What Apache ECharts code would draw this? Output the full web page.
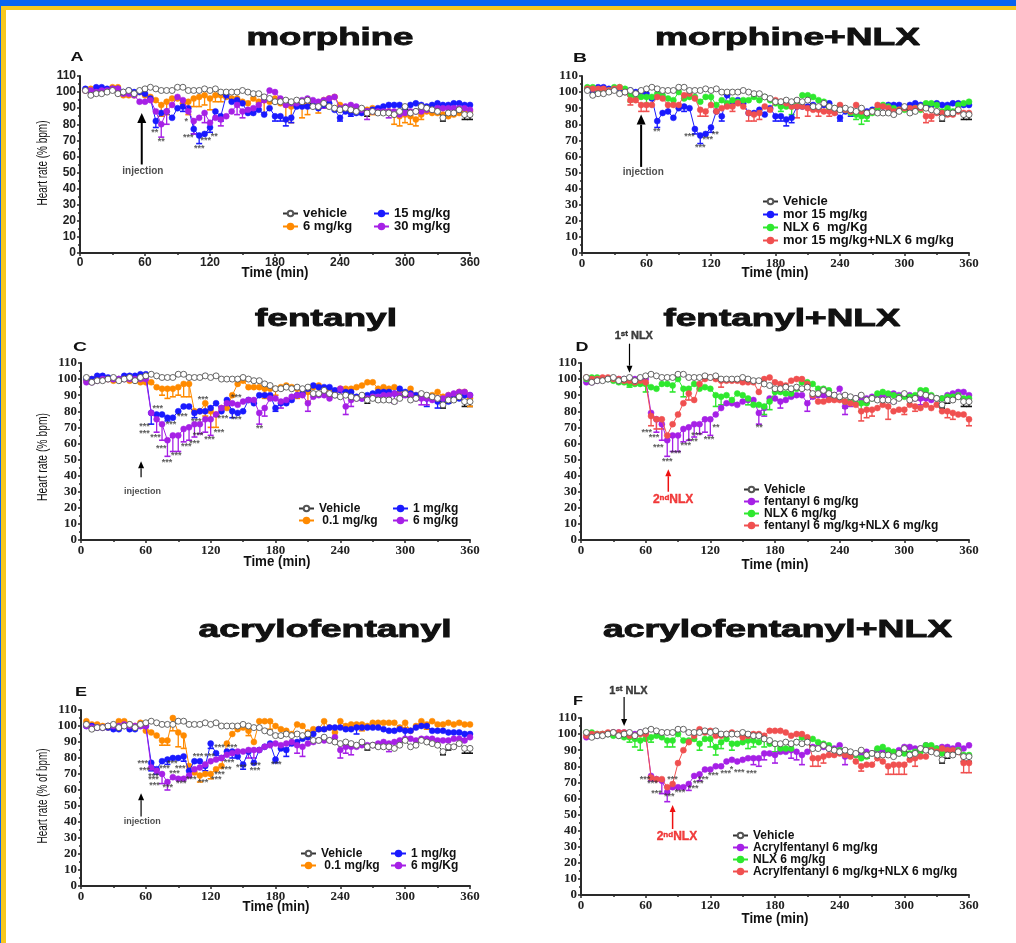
<!DOCTYPE html>
<html><head><meta charset="utf-8">
<script src="https://cdn.jsdelivr.net/npm/echarts@6/dist/echarts.min.js"></script>
<style>
html,body{margin:0;padding:0;background:#fff;width:1016px;height:943px;overflow:hidden;}
.c{position:absolute;left:0;top:0;width:1016px;height:943px;}
.bar{position:absolute;}
</style></head>
<body>
<div class="bar" style="left:0;top:0;width:1016px;height:6px;background:#0a64f0"></div>
<div class="bar" style="left:0;top:6px;width:1016px;height:4px;background:#f7c81e"></div>
<div class="bar" style="left:0;top:6px;width:1px;height:937px;background:#0a64f0"></div>
<div class="bar" style="left:1px;top:6px;width:5px;height:937px;background:#f7c81e"></div>
<div id="pA" class="c"></div><div id="pB" class="c"></div><div id="pC" class="c"></div>
<div id="pD" class="c"></div><div id="pE" class="c"></div><div id="pF" class="c"></div>
<script>
// time points (min)
const T = [5,10,15,20,25,30,35,40,45,50,55,60,65,70,75,80,85,90,95,100,105,110,115,120,125,130,135,140,145,150,155,160,165,170,175,180,185,190,195,200,205,210,215,220,225,230,235,240,245,250,255,260,265,270,275,280,285,290,295,300,305,310,315,320,325,330,335,340,345,350,355,360];

const vehicle = [101,98,99,99,100,101,99,100,101,99,101,102, 103,102,101,101,101,103,103,101,101,101,102,101, 102,100,100,100,100,101,100,99,99,97,96,94, 94,95,94,95,94,95,91,91,93,91,90,89, 90,89,88,90,87,88,87,87,87,86,88,91, 87,88,91,90,89,88,84,87,87,89,86,86];
// A morphine
const morph6 = [101,102,101,102,101,103,103,98,98,98,100,98, 97,95,92,94,96,96,93,94,96,97,98,96, 98,98,97,96,96,94,93,96,94,95,94,96, 93,92,91,92,92,93,92,92,95,96,97,92, 90,91,89,88,89,90,88,88,88,86,85,86, 85,83,86,88,87,87,86,85,86,87,88,88];
const morph15 = [102,100,103,103,102,102,102,100,101,100,100,99, 96,82,87,88,84,90,91,90,77,73,74,78, 88,85,98,94,95,93,87,87,89,86,90,85, 85,83,84,91,91,91,92,90,92,93,89,84, 88,87,87,87,88,89,90,91,92,92,92,90, 92,93,92,91,92,93,92,92,93,93,92,92];
const morph30 = [101,101,100,101,101,102,102,99,99,98,94,94, 95,88,80,88,92,97,95,88,82,84,87,81, 84,83,85,88,92,88,89,90,92,95,101,100, 96,92,93,93,95,96,95,94,95,96,97,90, 91,92,91,89,88,88,88,88,88,88,86,87, 88,88,88,89,89,90,90,90,90,90,90,89];
// B morphine+NLX
const nlxB = [103,103,101,101,101,103,103,102,98,97,97,97, 97,99,98,96,95,100,96,97,97,94,97,97, 92,95,93,95,94,95,95,97,95,97,95,93, 91,91,91,94,98,98,97,95,94,90,90,90, 89,87,86,85,85,87,90,92,91,90,89,89, 89,90,89,93,93,92,88,90,88,92,93,94];
const morNlx = [102,102,102,102,101,102,103,100,95,95,92,92, 92,97,96,92,92,92,98,99,96,89,88,92, 88,90,91,91,93,91,87,86,87,91,89,95, 94,93,91,91,91,90,89,89,88,88,87,92, 89,88,92,88,87,88,92,91,90,88,89,90, 90,90,90,85,85,87,87,86,86,88,87,87];
// C fentanyl
const fent01 = [99,100,101,101,100,99,100,101,99,99,98,98, 98,95,94,94,94,95,97,97,80,80,85,80, 78,82,82,90,97,99,95,95,95,94,94,94, 95,96,95,94,93,92,95,96,94,93,91,94, 94,94,95,96,98,98,94,95,94,95,92,91, 94,90,90,89,90,92,89,90,90,92,92,88];
const fent1 = [100,100,102,102,101,100,100,102,102,102,103,103, 79,78,78,76,76,80,83,83,79,80,80,82, 85,80,87,80,79,80,87,85,90,90,90,82, 85,85,87,90,91,94,96,95,95,95,93,93, 92,92,89,88,90,91,92,92,92,91,94,92, 91,90,90,88,88,86,87,86,88,88,90,90];
const fent6 = [98,98,99,100,100,100,100,100,100,100,100,100, 79,75,72,62,65,65,69,70,72,72,75,75, 78,82,85,85,84,86,87,87,79,82,88,88, 86,87,89,90,90,85,89,90,90,88,90,94, 83,87,88,88,88,89,89,90,90,91,90,90, 90,88,88,88,87,88,88,90,91,92,92,90];
// D fentanyl+NLX
const nlxD = [100,101,101,100,100,99,98,98,97,97,97,97, 95,94,97,97,96,100,94,94,97,94,95,94, 90,89,90,87,91,90,88,84,84,83,86,92, 92,91,91,94,98,98,97,94,94,93,88,88, 86,86,85,85,85,88,91,92,91,90,89,89, 89,90,93,93,90,88,88,89,89,90,88,88];
const fentNlx = [101,100,100,101,101,100,100,99,99,98,99,98, 77,75,75,65,72,78,85,91,87,97,100,101, 100,99,99,99,99,98,98,98,92,100,101,98, 97,96,99,100,100,97,90,86,86,87,87,87, 86,85,84,80,81,81,82,84,83,80,81,81, 84,83,82,84,82,84,80,80,79,78,78,75];
// E acrylofentanyl
const acr01 = [103,101,101,100,99,100,103,103,101,100,102,97, 96,94,91,91,105,96,94,75,71,69,70,70, 73,75,89,95,98,99,97,90,103,103,103,100, 98,97,95,101,100,96,98,98,103,99,96,103, 100,101,101,101,100,102,102,102,102,102,99,102, 97,100,103,101,103,101,101,102,101,102,101,101];
const acr1 = [100,100,99,99,99,98,98,100,98,98,100,100, 77,73,78,79,80,80,81,72,78,78,75,89, 83,80,84,84,81,76,84,77,85,87,89,79, 86,85,89,90,92,93,95,98,98,99,99,99, 98,98,99,99,99,99,99,98,97,97,98,97, 97,99,100,100,97,97,97,96,96,96,95,95];
const acr6E = [100,99,99,99,100,100,100,101,100,100,100,100, 74,72,70,65,68,67,67,69,73,74,76,78, 79,80,82,83,84,84,85,85,85,87,88,89, 88,89,90,88,87,89,90,91,91,91,93,85, 87,87,87,88,88,88,89,90,89,90,91,92, 92,91,92,92,92,91,91,91,92,92,91,93];
// F acrylofentanyl+NLX
const acr6F = [98,99,99,100,100,101,101,101,100,100,101,100, 74,72,71,64,67,67,67,69,74,75,78,78, 80,80,83,84,83,84,85,85,85,88,88,87, 89,89,90,89,87,89,92,92,92,91,91,93, 86,88,87,87,89,88,90,90,89,87,90,92, 92,91,91,93,92,91,92,92,91,93,91,93];
const nlxF = [101,101,100,100,100,99,99,98,98,97,96,97, 98,99,98,96,96,100,96,96,97,94,97,97, 92,95,97,94,94,95,96,96,95,97,94,94, 91,91,91,95,98,97,97,95,94,93,90,90, 89,88,87,85,86,88,91,92,90,89,88,88, 88,89,89,93,93,91,88,90,89,90,87,87];
const acrNlx = [99,100,100,100,101,101,101,101,99,99,100,100, 73,72,72,67,69,82,90,95,99,103,101,102, 99,99,100,101,100,98,99,100,100,99,102,102, 102,101,99,100,100,98,85,85,86,87,87,88, 87,86,83,80,81,81,85,83,80,81,81,81, 84,85,86,86,90,89,91,90,90,89,82,82];

// error bars (SEM, drawn downward): [time, sem]
const vehErr = [[260,2],[265,2],[270,1],[335,2],[340,2],[355,3],[360,3]];
const morph6Err = [[75,7],[80,8],[100,8],[105,5],[110,6],[115,6],[120,7],[125,4],[130,4],[170,8],[190,10],[195,10],[205,8],[210,7],[220,5],[230,4],[270,4],[290,6],[295,6],[300,5],[305,5],[310,4],[315,3]];
const morph15Err = [[70,4],[95,3],[105,3],[110,5],[120,3],[130,3],[180,3],[185,3],[190,4],[195,3],[240,2],[250,2]];
const morph30Err = [[75,8],[80,8],[105,8],[115,6],[130,4],[145,6],[150,4],[215,3],[225,5],[265,5],[285,4]];
const nlxBErr = [[45,4],[60,4],[120,5],[125,4],[185,3],[195,5],[255,3],[260,5],[265,3]];
const morNlxErr = [[45,3],[55,4],[60,4],[80,4],[90,2],[110,4],[115,3],[140,3],[155,5],[160,4],[165,4],[200,7],[210,5],[220,4],[230,3],[320,4],[325,3]];
const fent01Err = [[75,4],[80,6],[85,5],[90,5],[95,8],[100,8],[115,8],[120,10],[125,8],[170,6],[180,4],[200,6],[210,6],[220,5],[230,4],[360,5]];
const fent1Err = [[65,7],[80,2],[105,3],[135,4],[140,4],[180,2],[300,3],[320,5],[330,4]];
const fent6Err = [[70,8],[75,10],[80,10],[85,10],[90,10],[95,8],[100,8],[105,8],[110,6],[115,8],[120,10],[165,7],[170,5],[185,4],[210,5],[245,5],[250,4],[290,6],[315,4],[320,4]];
const nlxDErr = [[45,2],[60,5],[85,4],[95,5],[125,7],[130,5],[155,4],[170,5],[175,5],[180,5],[230,3],[245,4],[260,5]];
const fentNlxErr = [[65,6],[70,6],[75,6],[100,4],[130,4],[260,6],[265,5],[270,4],[285,8],[300,3],[310,3],[340,4],[345,4],[360,4]];
const acr01Err = [[75,3],[80,3],[85,8],[90,9],[95,8],[110,4],[120,3],[155,3],[175,5],[225,6],[240,4],[260,4],[300,3],[320,3]];
const acr1Err = [[65,5],[70,3],[80,3],[95,3],[115,3],[120,3],[140,4],[150,3],[180,2],[190,4],[255,4],[300,5],[355,3]];
const acr6EErr = [[75,6],[80,5],[155,5],[160,5],[200,5],[205,6],[240,5],[245,4],[250,5],[285,5]];
const acr6FErr = [[65,3],[75,8],[80,6],[100,4],[110,4],[160,4],[165,5],[170,4],[180,5],[195,5],[200,5],[205,6],[245,5]];
const nlxFErr = [[45,3],[50,5],[55,6],[65,3],[80,4],[85,4],[110,4],[120,5],[125,5],[130,4],[140,4],[155,5],[160,4],[170,5],[180,5]];
const acrNlxErr = [[215,5],[220,5],[225,4],[260,3],[285,5],[290,6],[295,6],[300,6],[310,5],[355,6],[360,6]];

// significance marks: [time, y, text]
const starsA = [[69,75,'**'],[75,69,'**'],[98,81.5,'*'],[100,72,'***'],[110,65,'***'],[116,70,'***'],[124,72.6,'**']];
const starsB = [[69.5,75.5,'**'],[100,72.5,'***'],[110,65.3,'***'],[117,70.5,'***'],[124,73.6,'**']];
const starsC = [[71,82,'***'],[58.7,70.6,'***'],[58.7,66.4,'***'],[68.9,63.7,'***'],[74.2,56.9,'***'],[83.4,71.6,'***'],[88.1,52.7,'***'],[79.7,48.4,'***'],[93.6,76.8,'***'],[97.3,58.1,'***'],[105.1,60.2,'***'],[106.6,73.5,'***'],[108.2,64.8,'***'],[112.8,87.6,'***'],[119,62.3,'***'],[127.6,67,'***'],[131.3,75.8,'***'],[143.7,88.8,'***'],[143.7,74.7,'***'],[165.3,69.5,'**']];
const starsD = [[60.9,66.8,'***'],[67.7,63.7,'***'],[71.7,57.5,'***'],[80,48.8,'***'],[88,53.5,'***'],[97.3,58.7,'***'],[103.5,61.2,'***'],[107.2,64.8,'***'],[118.7,62.7,'***'],[125.2,70.2,'**'],[165.3,70.2,'**']];
const starsE = [[57.2,76.3,'***'],[58.7,71.9,'***'],[67,68.3,'***'],[67,66.3,'***'],[68,62.7,'***'],[77.3,73.5,'***'],[80.3,61.5,'***'],[84.4,76.3,'***'],[86.5,70.4,'***'],[91.8,73.5,'***'],[92.7,64,'***'],[102,66.7,'***'],[108.2,80.8,'***'],[119,80.8,'***'],[112.8,64.6,'***'],[125.2,66.3,'***'],[128.2,69.8,'***'],[134.4,72.9,'***'],[128.2,86.7,'***'],[139.7,86.7,'***'],[136.9,77.3,'***'],[148.3,74,'***'],[161,71.9,'***'],[161.6,75.2,'***'],[180.8,76,'***']];
const starsF = [[59.3,71.6,'***'],[66.4,69.5,'***'],[85,71.6,'***'],[70.1,62.9,'***'],[81.9,61.2,'***'],[91.8,63.7,'***'],[104.1,66.4,'***'],[108.8,69.5,'***'],[113.4,72,'***'],[122.7,74.1,'***'],[134.4,75.3,'***'],[139.7,77.8,'*'],[146.8,76.2,'***'],[158.2,75.3,'***']];

const C_OR = '#ff8a00', C_BL = '#1a1aff', C_PU = '#a620e6', C_GR = '#2ee82e', C_RD = '#f05050';

const measureCtx = document.createElement('canvas').getContext('2d');
function scaleFor(text, font, target){ measureCtx.font = font; return target / measureCtx.measureText(text).width; }

function errRender(color){
  return function(params, api){
    const t = api.value(0), v = api.value(1), lo = api.value(2);
    const a = api.coord([t, v]), b = api.coord([t, lo]);
    return {type:'group', children:[
      {type:'line', shape:{x1:a[0],y1:a[1],x2:b[0],y2:b[1]}, style:{stroke:color,lineWidth:1.3}},
      {type:'line', shape:{x1:b[0]-3,y1:b[1],x2:b[0]+3,y2:b[1]}, style:{stroke:color,lineWidth:1.6}}
    ]};
  };
}

function txt(text, x, y, font, target, extra){
  const o = {type:'text', x:x, y:y, silent:true,
    scaleX: target ? scaleFor(text, font, target) : 1,
    style:Object.assign({text:text, font:font, fill:'#111', align:'center', verticalAlign:'middle', textAlign:'center', textVerticalAlign:'middle'}, (extra && extra.style)||{})};
  if (extra && extra.rotation) o.rotation = extra.rotation;
  return o;
}

function arrowGraphic(chart, a){
  const p0 = chart.convertToPixel({gridIndex:0}, [a[0], a[1]]);
  const p1 = chart.convertToPixel({gridIndex:0}, [a[2], a[3]]);
  const dx = p1[0]-p0[0], dy = p1[1]-p0[1], L = Math.hypot(dx, dy), ux = dx/L, uy = dy/L;
  const hw = a[5]/2, hl = a[6];
  const bx = p1[0]-ux*hl, by = p1[1]-uy*hl;
  return [
    {type:'line', silent:true, z:50, shape:{x1:p0[0], y1:p0[1], x2:bx, y2:by}, style:{stroke:a[4], lineWidth:a[7]}},
    {type:'polygon', silent:true, z:50, shape:{points:[[p1[0],p1[1]],[bx-uy*hw, by+ux*hw],[bx+uy*hw, by-ux*hw]]}, style:{fill:a[4]}}
  ];
}

function build(p){
  const chart = echarts.init(document.getElementById(p.id), null, {width:1016, height:943});
  const tickFont = p.serif ? 'Liberation Serif' : 'Liberation Sans';
  const tickSize = p.serif ? 13 : 12;
  const series = [];
  p.lines.forEach((l, idx) => {
    const veh = !!l.vehicle;
    const c = veh ? '#333' : l.color;
    if (l.err) {
      series.push({type:'custom', name:'_err'+idx, silent:true, z:1, clip:false, renderItem:errRender(veh ? '#111' : c),
        data:l.err.map(([t,e]) => { const v = l.data[T.indexOf(t)]; return [t, v, v - e]; })});
    }
    series.push({type:'line', name:l.name, data:T.map((t,i)=>[t, l.data[i]]), symbol:'circle', symbolSize:6,
      z: veh ? 6 : 2 + idx * 0.1, silent:true,
      itemStyle: veh ? {color:'#fff', borderColor:'#555', borderWidth:0.9} : {color:c, borderColor:c, borderWidth:0.5},
      lineStyle:{color:c, width:1}, emphasis:{disabled:true}});
  });
  series.push({type:'scatter', name:'_stars', data:p.stars, symbolSize:1, z:7, silent:true, clip:false,
    itemStyle:{color:'rgba(0,0,0,0)'},
    label:{show:true, position:'inside', formatter:q=>q.data[2], fontSize:9, fontWeight:'bold', color:'#333', fontFamily:'Liberation Sans'}});
  series.push({type:'scatter', name:'_notes', symbolSize:1, z:8, silent:true, clip:false,
    itemStyle:{color:'rgba(0,0,0,0)'},
    data:p.notes.map(n => ({value:[n[0], n[1]], label:{show:true, position:'inside', formatter:n[2], color:n[3], fontFamily:'Liberation Sans', fontWeight:'bold', fontSize:n[4],
      rich:{a:{fontSize:n[4], fontWeight:900, color:n[3], fontFamily:'Liberation Sans', textBorderColor:n[3], textBorderWidth:n[5]||0},
            b:{fontSize:Math.round(n[4]*0.7), fontWeight:900, color:n[3], verticalAlign:'top', fontFamily:'Liberation Sans', textBorderColor:n[3], textBorderWidth:n[5]||0}}}}))});

  const axCommon = {
    axisLine:{show:true, onZero:false, lineStyle:{color:'#2a2a2a', width:2}},
    axisTick:{show:true, length:3, lineStyle:{color:'#2a2a2a', width:1.5}},
    minorTick:{show:true, splitNumber:2, length:2, lineStyle:{color:'#2a2a2a', width:1.5}},
    splitLine:{show:false}, minorSplitLine:{show:false},
    axisLabel:{fontFamily:tickFont, fontWeight:'bold', fontSize:tickSize, color:'#222', margin:4}
  };
  const g = p.grid;
  chart.setOption({
    animation:false,
    grid:{left:g[0], top:g[1], width:g[2], height:g[3], containLabel:false, outerBoundsMode:'none'},
    xAxis:Object.assign({type:'value', min:0, max:360, interval:60}, axCommon),
    yAxis:Object.assign({type:'value', min:0, max:110, interval:10}, axCommon),
    legend:p.legends.map(L => ({orient:'vertical', left:L.left, top:L.top, data:L.data, itemWidth:15, itemHeight:7, itemGap:0, padding:0,
      selectedMode:false, textStyle:{fontFamily:'Liberation Sans', fontWeight:'bold', fontSize:L.fs, color:'#111', lineHeight:L.lh}})),
    series:series
  });
  const graphic = [
    txt(p.title[0], p.title[1], p.title[2], 'bold 24px "Liberation Sans"', p.title[3], {style:{stroke:'#111', lineWidth:0.9}}),
    txt(p.letter[0], p.letter[1], p.letter[2], 'bold 13px "Liberation Sans"', p.letter[3]),
    txt('Time (min)', p.xName[0], p.xName[1], 'bold 14px "Liberation Sans"', 67)
  ];
  if (p.yName) graphic.push(txt(p.yName[0], p.yName[1], p.yName[2], '14px "Liberation Sans"', p.yName[3], {rotation:Math.PI/2}));
  p.arrows.forEach(a => arrowGraphic(chart, a).forEach(e => graphic.push(e)));
  chart.setOption({graphic:graphic});
}

const panels = [
  {id:'pA', grid:[80,76,390,177], serif:false,
   title:['morphine',330,38.5,167], letter:['A',77,57.5,13], xName:[275,273], yName:['Heart rate (% bpm)',43,163,85],
   lines:[{name:'vehicle', data:vehicle, err:vehErr, vehicle:true},
          {name:'6 mg/kg', data:morph6, err:morph6Err, color:C_OR},
          {name:'15 mg/kg', data:morph15, err:morph15Err, color:C_BL},
          {name:'30 mg/kg', data:morph30, err:morph30Err, color:C_PU}],
   legends:[{left:282, top:207, data:['vehicle','6 mg/kg'], fs:13, lh:11.5},
            {left:373, top:207, data:['15 mg/kg','30 mg/kg'], fs:13, lh:11.5}],
   stars:starsA, notes:[[58,51,'injection','#222',10]], arrows:[[57,55,57,87,'#000',9,10,2]]},
  {id:'pB', grid:[582,76,387,177], serif:true,
   title:['morphine+NLX',787.5,38,265], letter:['B',580,58,14], xName:[775,273],
   lines:[{name:'Vehicle', data:vehicle, err:vehErr, vehicle:true},
          {name:'mor 15 mg/kg', data:morph15, err:morph15Err, color:C_BL},
          {name:'NLX 6  mg/Kg', data:nlxB, err:nlxBErr, color:C_GR},
          {name:'mor 15 mg/kg+NLX 6 mg/kg', data:morNlx, err:morNlxErr, color:C_RD}],
   legends:[{left:762, top:195, data:['Vehicle','mor 15 mg/kg','NLX 6  mg/Kg','mor 15 mg/kg+NLX 6 mg/kg'], fs:13, lh:11.6}],
   stars:starsB, notes:[[57,50,'injection','#222',10]], arrows:[[55,53.5,55,86,'#000',9,10,2]]},
  {id:'pC', grid:[81,363,389,177], serif:true,
   title:['fentanyl',326,319.5,142], letter:['C',80,347.5,14], xName:[277,562], yName:['Heart rate (% bpm)',43,457,88],
   lines:[{name:'Vehicle', data:vehicle, err:vehErr, vehicle:true},
          {name:' 0.1 mg/kg', data:fent01, err:fent01Err, color:C_OR},
          {name:'1 mg/kg', data:fent1, err:fent1Err, color:C_BL},
          {name:'6 mg/kg', data:fent6, err:fent6Err, color:C_PU}],
   legends:[{left:298, top:502.5, data:['Vehicle',' 0.1 mg/kg'], fs:12, lh:10.2},
            {left:392, top:502.5, data:['1 mg/kg','6 mg/kg'], fs:12, lh:10.2}],
   stars:starsC, notes:[[57,30,'injection','#222',9]], arrows:[[55.6,39,55.6,49,'#000',6,7,1.2]]},
  {id:'pD', grid:[581,363,388,177], serif:true,
   title:['fentanyl+NLX',782,319.5,237], letter:['D',582,347.5,13], xName:[775,565],
   lines:[{name:'Vehicle', data:vehicle, err:vehErr, vehicle:true},
          {name:'fentanyl 6 mg/kg', data:fent6, err:fent6Err, color:C_PU},
          {name:'NLX 6 mg/kg', data:nlxD, err:nlxDErr, color:C_GR},
          {name:'fentanyl 6 mg/kg+NLX 6 mg/kg', data:fentNlx, err:fentNlxErr, color:C_RD}],
   legends:[{left:743, top:483.5, data:['Vehicle','fentanyl 6 mg/kg','NLX 6 mg/kg','fentanyl 6 mg/kg+NLX 6 mg/kg'], fs:12, lh:11.3}],
   stars:starsD,
   notes:[[49,127,'{a|1}{b|st}{a| NLX}','#111',11,0.4],[85.5,25,'{a|2}{b|nd}{a|NLX}','#ee1111',12,0.4]],
   arrows:[[45,122,45,104,'#000',6,7,1.2],[81,30,81,44,'#ee1111',6,7,1.5]]},
  {id:'pE', grid:[81,710,389,176], serif:true,
   title:['acrylofentanyl',325,630.5,253], letter:['E',81,692,12], xName:[276,907], yName:['Heart rate (% of bpm)',43,796,95],
   lines:[{name:'Vehicle', data:vehicle, err:vehErr, vehicle:true},
          {name:' 0.1 mg/kg', data:acr01, err:acr01Err, color:C_OR},
          {name:'1 mg/kg', data:acr1, err:acr1Err, color:C_BL},
          {name:'6 mg/Kg', data:acr6E, err:acr6EErr, color:C_PU}],
   legends:[{left:300, top:847.5, data:['Vehicle',' 0.1 mg/kg'], fs:12, lh:10.5},
            {left:390, top:847.5, data:['1 mg/kg','6 mg/Kg'], fs:12, lh:10.5}],
   stars:starsE, notes:[[56.6,40,'injection','#222',9]], arrows:[[55.6,43.5,55.6,58,'#000',6,7,1.2]]},
  {id:'pF', grid:[581,718,388,177], serif:true,
   title:['acrylofentanyl+NLX',777.5,630.5,349], letter:['F',578,701.5,10], xName:[775,919],
   lines:[{name:'Vehicle', data:vehicle, err:vehErr, vehicle:true},
          {name:'Acrylfentanyl 6 mg/kg', data:acr6F, err:acr6FErr, color:C_PU},
          {name:'NLX 6 mg/kg', data:nlxF, err:nlxFErr, color:C_GR},
          {name:'Acrylfentanyl 6 mg/kg+NLX 6 mg/kg', data:acrNlx, err:acrNlxErr, color:C_RD}],
   legends:[{left:732, top:829.5, data:['Vehicle','Acrylfentanyl 6 mg/kg','NLX 6 mg/kg','Acrylfentanyl 6 mg/kg+NLX 6 mg/kg'], fs:12, lh:11.3}],
   stars:starsF,
   notes:[[44,127,'{a|1}{b|st}{a| NLX}','#111',11,0.4],[89,36,'{a|2}{b|nd}{a|NLX}','#ee1111',12,0.4]],
   arrows:[[40,123,40,105,'#000',6,7,1.2],[85,41,85,56,'#ee1111',6,7,1.5]]}
];
panels.forEach(build);
</script>
</body></html>
